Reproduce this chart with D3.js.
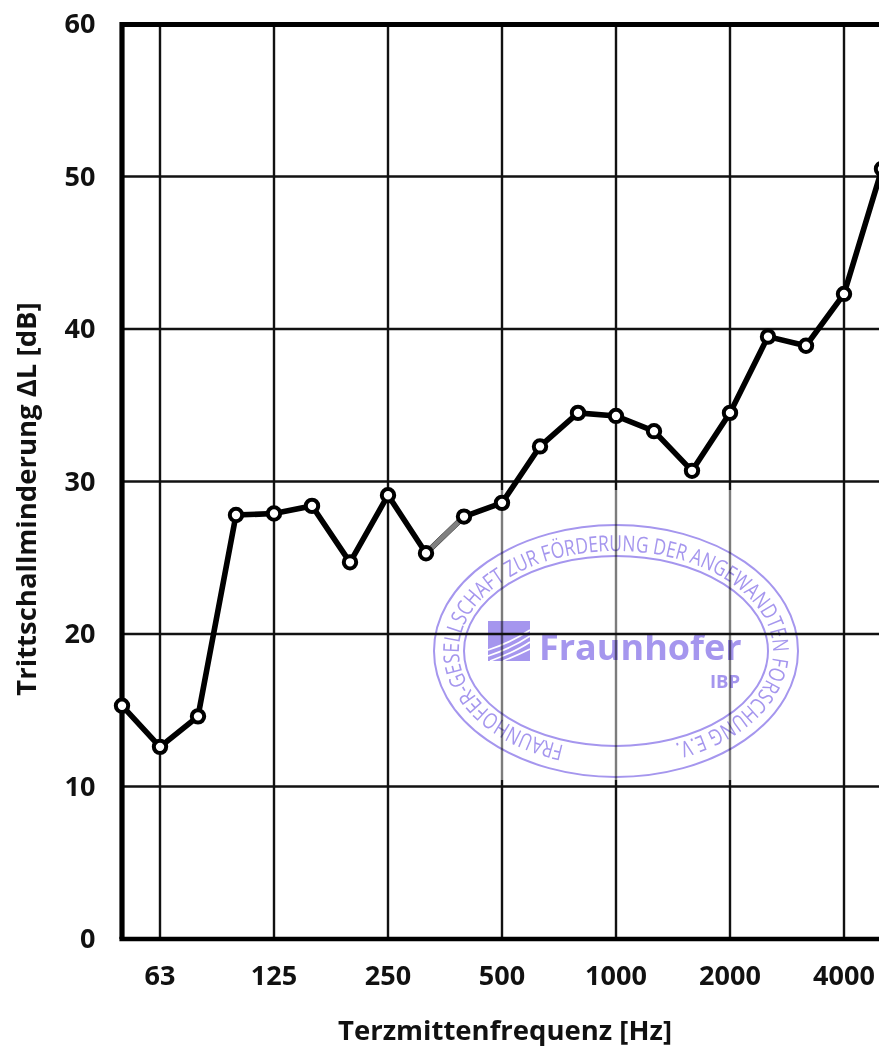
<!DOCTYPE html>
<html><head><meta charset="utf-8">
<script src="https://cdn.jsdelivr.net/npm/d3@7"></script>
<style>html,body{margin:0;padding:0;background:#fff}svg{display:block}text{font-family:"Open Sans",sans-serif;font-weight:700;fill:#111}</style>
</head><body><svg id="c" width="879" height="1048"></svg>
<script>
const bands=["50","63","80","100","125","160","200","250","315","400","500","630","800","1000","1250","1600","2000","2500","3150","4000","5000"];
const values=[15.3,12.6,14.6,27.8,27.9,28.4,24.7,29.1,25.3,27.7,28.6,32.3,34.5,34.3,33.3,30.7,34.5,39.5,38.9,42.3,50.5];
const xTicks=["63","125","250","500","1000","2000","4000"];
const yTicks=[0,10,20,30,40,50,60];
const xLabel="Terzmittenfrequenz [Hz]";
const yLabel="Trittschallminderung ΔL [dB]";
const stampRing="FRAUNHOFER-GESELLSCHAFT ZUR FÖRDERUNG DER ANGEWANDTEN FORSCHUNG E.V.";
const stampName="Fraunhofer";
const stampUnit="IBP";

const svg=d3.select("#c");
const x=d3.scalePoint().domain(bands).range([122,882]);
const y=d3.scaleLinear().domain([0,60]).range([939,24]);
const defs=svg.append("defs");

// vertical grid
svg.append("g").selectAll("line").data(xTicks).join("line")
 .attr("x1",d=>x(d)).attr("x2",d=>x(d)).attr("y1",y(60)).attr("y2",y(0))
 .attr("stroke","#111").attr("stroke-width",2.4);
// faded scan area
svg.append("rect").attr("x",495).attr("y",490).attr("width",243).attr("height",290).attr("fill","#fff").attr("opacity",.45);

// stamp
const S=svg.append("g").style("mix-blend-mode","multiply");
const col="#a596ee";
const cx=616,cy=651;
S.append("ellipse").attr("cx",cx).attr("cy",cy).attr("rx",182).attr("ry",126).attr("fill","none").attr("stroke",col).attr("stroke-width",2);
S.append("ellipse").attr("cx",cx).attr("cy",cy).attr("rx",152).attr("ry",95).attr("fill","none").attr("stroke",col).attr("stroke-width",2);
const rx=157,ry=100,off=52,dy=ry*Math.sqrt(1-(off/rx)*(off/rx));
defs.append("path").attr("id","ring").attr("d",`M${cx-off},${cy+dy} A${rx},${ry} 0 1 1 ${cx+off},${cy+dy}`);
S.append("text").attr("font-size",22).style("font-weight",400).style("fill",col)
 .append("textPath").attr("href","#ring").attr("textLength",705).attr("lengthAdjust","spacingAndGlyphs").text(stampRing);
S.append("text").attr("x",539).attr("y",660).attr("font-size",36).style("fill",col).text(stampName);
S.append("text").attr("x",710).attr("y",688).attr("font-size",18.5).style("fill",col).text(stampUnit);
// logo
const lg=S.append("g");
lg.append("rect").attr("x",488).attr("y",621).attr("width",42).attr("height",40).attr("fill",col);
const stripes=["M488,650Q510,643 530,630","M488,656Q512,648 530,636","M490,661Q515,652 530,642","M503,661Q518,655 530,649"];
lg.selectAll("path").data(stripes).join("path").attr("d",d=>d).attr("fill","none").attr("stroke","#fff").attr("stroke-width",1.7);

// horizontal grid
svg.append("g").selectAll("line").data(yTicks.slice(1,-1)).join("line")
 .attr("x1",x("50")).attr("x2",879).attr("y1",d=>y(d)).attr("y2",d=>y(d))
 .attr("stroke","#111").attr("stroke-width",2.4);

// frame
svg.append("path").attr("d",`M${x("50")},${y(0)}V${y(60)+.5}H879`).attr("fill","none").attr("stroke","#000").attr("stroke-width",5.2);
svg.append("line").attr("x1",x("50")-2.6).attr("x2",879).attr("y1",y(0)).attr("y2",y(0)).attr("stroke","#000").attr("stroke-width",4.5);

// series
const line=d3.line().x((d,i)=>x(bands[i])).y(d=>y(d));
svg.append("path").attr("d",line(values)).attr("fill","none").attr("stroke","#000").attr("stroke-width",5.6);
svg.append("line").attr("x1",x("315")).attr("y1",y(25.3)).attr("x2",x("400")).attr("y2",y(27.7)).attr("stroke","#808080").attr("stroke-width",5);
svg.append("g").selectAll("circle").data(values).join("circle")
 .attr("cx",(d,i)=>x(bands[i])).attr("cy",d=>y(d)).attr("r",6.2).attr("fill","#fff").attr("stroke","#000").attr("stroke-width",4);

// labels
svg.append("g").selectAll("text").data(yTicks).join("text")
 .attr("x",95.5).attr("y",d=>y(d)+9).attr("text-anchor","end").attr("font-size",27).text(d=>d);
svg.append("g").selectAll("text").data(xTicks).join("text")
 .attr("x",d=>x(d)).attr("y",985).attr("text-anchor","middle").attr("font-size",27).text(d=>d);
svg.append("text").attr("x",505).attr("y",1040).attr("text-anchor","middle").attr("font-size",27).attr("textLength",334).attr("lengthAdjust","spacingAndGlyphs").text(xLabel);
svg.append("text").attr("transform","translate(36,499) rotate(-90)").attr("text-anchor","middle").attr("font-size",27.5).text(yLabel);
</script></body></html>
